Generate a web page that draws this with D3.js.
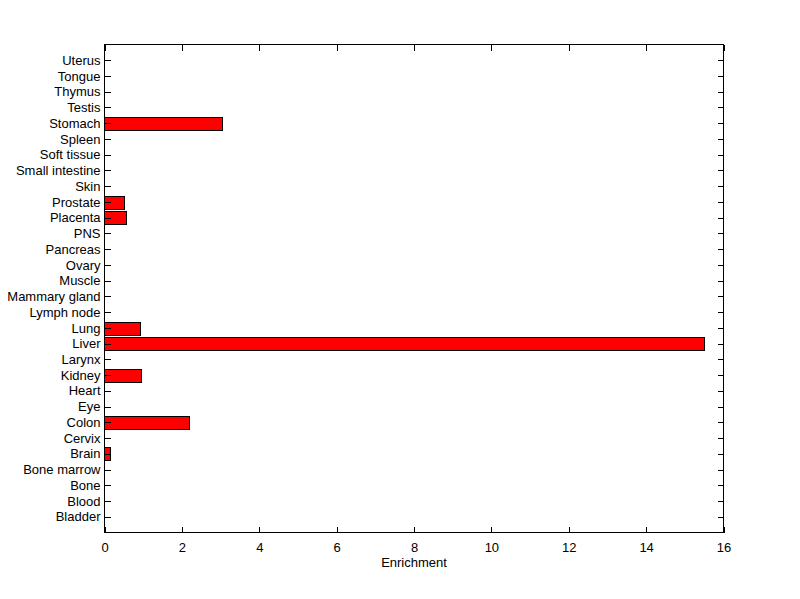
<!DOCTYPE html>
<html><head><meta charset="utf-8">
<script src="https://cdn.jsdelivr.net/npm/d3@7"></script>
<style>body{margin:0;background:#fff}svg{display:block}</style>
</head><body>
<script>
const categories = ["Bladder","Blood","Bone","Bone marrow","Brain","Cervix","Colon","Eye","Heart","Kidney","Larynx","Liver","Lung","Lymph node","Mammary gland","Muscle","Ovary","Pancreas","PNS","Placenta","Prostate","Skin","Small intestine","Soft tissue","Spleen","Stomach","Testis","Thymus","Tongue","Uterus"];
const values = [0,0,0,0,0.15,0,2.19,0,0,0.95,0,15.5,0.92,0,0,0,0,0,0,0.56,0.51,0,0,0,0,3.04,0,0,0,0];
const xTicks = [0,2,4,6,8,10,12,14,16];
const xLabel = "Enrichment";

(function(){
const W=800,H=599;
const L=104.5,R=723.5,T=44.5,B=532.5;
const svg=d3.select("body").append("svg").attr("width",W).attr("height",H);
const font="'Liberation Sans', Arial, Helvetica, sans-serif";
const x=d3.scaleLinear().domain([0,16]).range([L,R]);
const y=d3.scaleLinear().domain([0,categories.length+1]).range([B,T]);
const bw=(y(0)-y(1))*0.8;

const data=categories.map((c,i)=>({c,v:values[i],pos:i+1}));
svg.append("g").selectAll("rect").data(data.filter(d=>d.v>0)).join("rect")
  .attr("x",x(0)).attr("y",d=>Math.round(y(d.pos)-bw/2)+0.5)
  .attr("width",d=>Math.round(x(d.v)-x(0))).attr("height",Math.round(bw))
  .attr("fill","#ff0000").attr("stroke","#000").attr("stroke-width",1);

svg.append("rect").attr("x",L).attr("y",T).attr("width",R-L).attr("height",B-T)
  .attr("fill","none").attr("stroke","#000").attr("stroke-width",1);

const tl=6;
const axB=d3.axisBottom(x).tickValues(xTicks).tickSizeInner(-tl).tickSizeOuter(0).tickPadding(10).tickFormat(d3.format("d"));
const axT=d3.axisTop(x).tickValues(xTicks).tickSizeInner(-tl).tickSizeOuter(0).tickFormat("");
const axL=d3.axisLeft(y).tickValues(data.map(d=>d.pos)).tickSizeInner(-tl).tickSizeOuter(0).tickFormat(d=>categories[d-1]);
const axR=d3.axisRight(y).tickValues(data.map(d=>d.pos)).tickSizeInner(-tl).tickSizeOuter(0).tickFormat("");

function style(g){
  g.select(".domain").remove();
  g.selectAll("line").attr("stroke","#000").attr("shape-rendering","crispEdges");
  g.selectAll("text").attr("fill","#000").style("font-family",font).style("font-size","13px");
}
svg.append("g").attr("transform",`translate(0,${B})`).call(axB).call(style);
svg.append("g").attr("transform",`translate(0,${T})`).call(axT).call(style);
svg.append("g").attr("transform",`translate(${L},0)`).call(axL).call(style)
  .selectAll("text").attr("x",-4);
svg.append("g").attr("transform",`translate(${R},0)`).call(axR).call(style);

svg.append("text").attr("x",(L+R)/2).attr("y",567).attr("text-anchor","middle")
  .style("font-family",font).style("font-size","13px").text(xLabel);
})();
</script>
</body></html>
